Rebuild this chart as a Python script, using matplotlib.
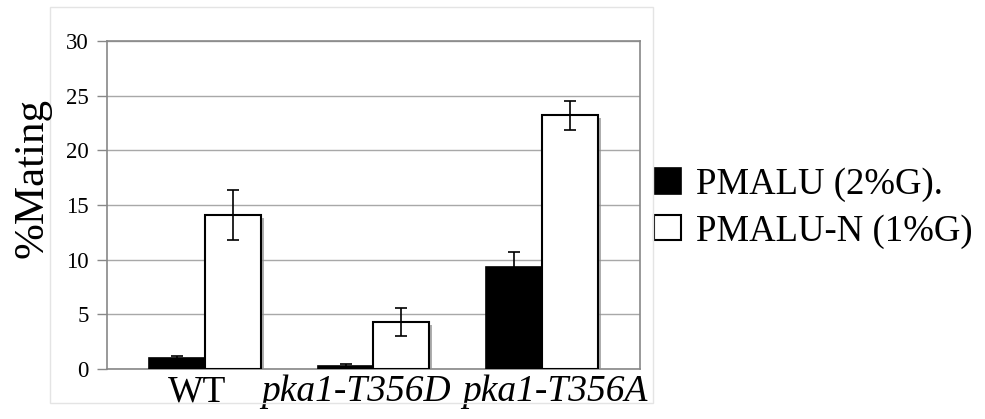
import matplotlib
matplotlib.use('Agg')

import matplotlib.pyplot as plt
import matplotlib.patheffects as pe
from matplotlib.patches import Rectangle
import numpy as np

plt.rcParams['font.family'] = ['Liberation Serif', 'DejaVu Serif']

# ---------- Data ----------

strains = ["WT", "pka1-T356D", "pka1-T356A"]
series_names = ["PMALU (2%G).", "PMALU-N (1%G)"]

pmalu = [1.0, 0.3, 9.3]
pmalu_err = [0.2, 0.2, 1.4]

pmalu_n = [14.1, 4.3, 23.2]
pmalu_n_err = [2.3, 1.3, 1.35]

y_ticks = [0, 5, 10, 15, 20, 25, 30]


# ---------- Figure ----------

fig = plt.figure(figsize=(9.85, 4.19), dpi=100)
ax = fig.add_axes([107 / 985, 1 - 369 / 419, 533 / 985, 328 / 419])

# faint outer chart border
fig.patches.append(Rectangle((50 / 985, 1 - 403 / 419), 603 / 985, 396 / 419,
                             transform=fig.transFigure, fill=False,
                             edgecolor="#e4e4e4", lw=1))

x = np.arange(len(strains))
width = 0.331
shadow = [pe.SimplePatchShadow(offset=(2.2, -2.2), shadow_rgbFace="0.55", alpha=0.7),
          pe.Normal()]

bars1 = ax.bar(x - width / 2, pmalu, width, color="black", edgecolor="black",
               lw=1.2, label=series_names[0], zorder=3)
bars2 = ax.bar(x + width / 2, pmalu_n, width, color="white", edgecolor="black",
               lw=1.5, label=series_names[1], zorder=3)
for b in list(bars1) + list(bars2):
    b.set_path_effects(shadow)

ax.errorbar(x - width / 2, pmalu, yerr=pmalu_err, fmt="none", ecolor="black",
            elinewidth=1.2, capsize=4, capthick=1.2, zorder=4)
ax.errorbar(x + width / 2, pmalu_n, yerr=pmalu_n_err, fmt="none", ecolor="black",
            elinewidth=1.2, capsize=4, capthick=1.2, zorder=4)

ax.set_xlim(-0.582, 2.583)
ax.set_ylim(0, 30)
ax.set_yticks(y_ticks)
ax.tick_params(axis="y", labelsize=16.5, length=7, width=1, color="#888888", pad=6)
ax.yaxis.grid(True, color="#a8a8a8", lw=1, zorder=0)
ax.set_axisbelow(True)

# x labels sit a little off the group centres
label_pos = [-0.05, 0.897, 2.08]
ax.set_xticks(label_pos)
ax.set_xticklabels(strains, fontsize=27)
for lbl in ax.get_xticklabels()[1:]:
    lbl.set_style("italic")
ax.tick_params(axis="x", length=0, pad=4)

for s in ax.spines.values():
    s.set_color("#888888")
    s.set_linewidth(1.2)

fig.text(32 / 985, 1 - 178 / 419, "%Mating", rotation=90, fontsize=31,
         ha="center", va="center")

leg = ax.legend(loc="center left", bbox_to_anchor=(654 / 985, 1 - 208 / 419),
                bbox_transform=fig.transFigure, frameon=False, fontsize=26.5,
                handlelength=0.73, handleheight=0.68, handletextpad=0.4,
                labelspacing=0.32, borderpad=0, borderaxespad=0)
for h in leg.legend_handles:
    h.set_path_effects([])

fig.savefig("out.png", dpi=100)
